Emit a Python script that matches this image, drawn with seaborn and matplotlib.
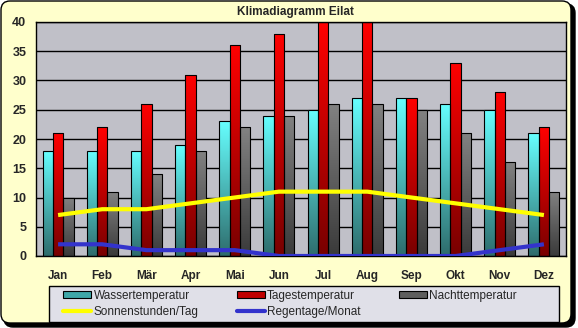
import numpy as np
import pandas as pd
import matplotlib
matplotlib.use("Agg")
import matplotlib.pyplot as plt
import seaborn as sns
from matplotlib.colors import LinearSegmentedColormap
from matplotlib.patches import FancyBboxPatch, Patch, Rectangle
from matplotlib.lines import Line2D

# Klimadaten Eilat
monate = ["Jan", "Feb", "Mär", "Apr", "Mai", "Jun", "Jul", "Aug", "Sep", "Okt", "Nov", "Dez"]
wasser = [18, 18, 18, 19, 23, 24, 25, 27, 27, 26, 25, 21]
tages = [21, 22, 26, 31, 36, 38, 40, 40, 27, 33, 28, 22]
nacht = [10, 11, 14, 18, 22, 24, 26, 26, 25, 21, 16, 11]
sonne = [7, 8, 8, 9, 10, 11, 11, 11, 10, 9, 8, 7]
regen = [2, 2, 1, 1, 1, 0, 0, 0, 0, 0, 1, 2]
reihen = ["Wassertemperatur", "Tagestemperatur", "Nachttemperatur"]

sns.set_style("white")
plt.rcParams["font.family"] = ["Liberation Sans", "DejaVu Sans"]

W, H = 578, 328
fig = plt.figure(figsize=(W / 100, H / 100), dpi=100, facecolor="white")

# rounded frame with drop shadow (units: inches, 1 in = 100 px)
shadow = FancyBboxPatch((0.04, 0.01), 5.71, 3.23,
                        boxstyle="round,pad=0,rounding_size=0.09",
                        transform=fig.dpi_scale_trans, facecolor="black",
                        edgecolor="black", zorder=-5)
frame = FancyBboxPatch((0.01, 0.05), 5.70, 3.22,
                       boxstyle="round,pad=0,rounding_size=0.09",
                       transform=fig.dpi_scale_trans, facecolor="#FFFFCC",
                       edgecolor="black", linewidth=1.0, zorder=-4)
fig.patches.extend([shadow, frame])

ax = fig.add_axes([36 / W, 72 / H, 530 / W, 234 / H])
ax.set_facecolor("#C0C0C8")

df = pd.DataFrame({
    "Monat": monate * 3,
    "Wert": wasser + tages + nacht,
    "Reihe": np.repeat(reihen, len(monate)),
})

sns.barplot(data=df, x="Monat", y="Wert", hue="Reihe", order=monate,
            hue_order=reihen, width=0.7, palette=["#66FFFF", "#FF0000", "#808080"],
            edgecolor="black", linewidth=0.8, legend=False, ax=ax, zorder=2)

# vertical gradient fill inside every bar
grad_maps = [
    LinearSegmentedColormap.from_list("w", ["#2E6C6C", "#66FFFF"]),
    LinearSegmentedColormap.from_list("t", ["#780000", "#FF0000"]),
    LinearSegmentedColormap.from_list("n", ["#3A3A3A", "#828282"]),
]
grad = np.linspace(0, 1, 256).reshape(-1, 1)
for container, cmap in zip(ax.containers, grad_maps):
    for bar in container:
        x, y = bar.get_xy()
        w, h = bar.get_width(), bar.get_height()
        if h <= 0:
            continue
        im = ax.imshow(grad, cmap=cmap, origin="lower", aspect="auto",
                       extent=[x, x + w, y, y + h], zorder=2.1,
                       interpolation="bilinear")
        im.set_clip_path(bar)
        bar.set_facecolor("none")
        bar.set_zorder(2.2)

pos = np.arange(len(monate))
ax.plot(pos, sonne, color="#FFFF00", lw=3, zorder=4, solid_capstyle="butt")
ax.plot(pos, regen, color="#3333CC", lw=3, zorder=4, solid_capstyle="butt")

ax.set_xlim(-0.5, len(monate) - 0.5)
ax.set_ylim(0, 40)
ax.set_xlabel("")
ax.set_ylabel("")

ax.set_xticks(pos)
ax.set_xticklabels(monate, fontsize=8.5, fontweight="bold")
ax.set_xticks(np.arange(-0.5, len(monate), 1), minor=True)
ax.tick_params(axis="x", which="major", length=0, pad=10)
ax.tick_params(axis="x", which="minor", length=3, width=1, direction="out", color="black")

ax.set_yticks(range(0, 41, 5))
ax.set_yticks(range(0, 41, 1), minor=True)
ax.set_yticklabels([str(v) for v in range(0, 41, 5)], fontsize=9, fontweight="bold")
ax.tick_params(axis="y", which="major", length=3, width=1, direction="out", pad=4, color="black")
ax.tick_params(axis="y", which="minor", length=2, width=1, direction="out", color="black")

ax.set_axisbelow(True)
ax.yaxis.grid(True, color="black", linewidth=1)
for sp in ax.spines.values():
    sp.set_visible(True)
    sp.set_color("black")
    sp.set_linewidth(1)

fig.text(295 / W, 1 - 12 / H, "Klimadiagramm Eilat", ha="center", va="center",
         fontsize=8.5, fontweight="bold")

# legend box
fig.patches.append(Rectangle((49 / W, 6 / H), 510 / W, 36 / H,
                             transform=fig.transFigure, facecolor="#E0E0E8",
                             edgecolor="black", linewidth=1, zorder=-1))

handles = [
    Patch(facecolor="#3FA8A8", edgecolor="black", linewidth=0.8),
    Line2D([], [], color="#FFFF00", lw=3),
    Patch(facecolor="#C00000", edgecolor="black", linewidth=0.8),
    Line2D([], [], color="#3333CC", lw=3),
    Patch(facecolor="#5E5E5E", edgecolor="black", linewidth=0.8),
]
labels = ["Wassertemperatur", "Sonnenstunden/Tag", "Tagestemperatur",
          "Regentage/Monat", "Nachttemperatur"]
leg = fig.legend(handles, labels, ncol=3, loc="lower left",
                 bbox_to_anchor=(59 / W, 6 / H, 462 / W, 36 / H), mode="expand",
                 borderaxespad=0, fontsize=8.5, frameon=False,
                 handlelength=2.4, handleheight=0.55, handletextpad=0.2,
                 labelspacing=0.35, borderpad=0.35)

fig.savefig("out.png", dpi=100, facecolor="white")
